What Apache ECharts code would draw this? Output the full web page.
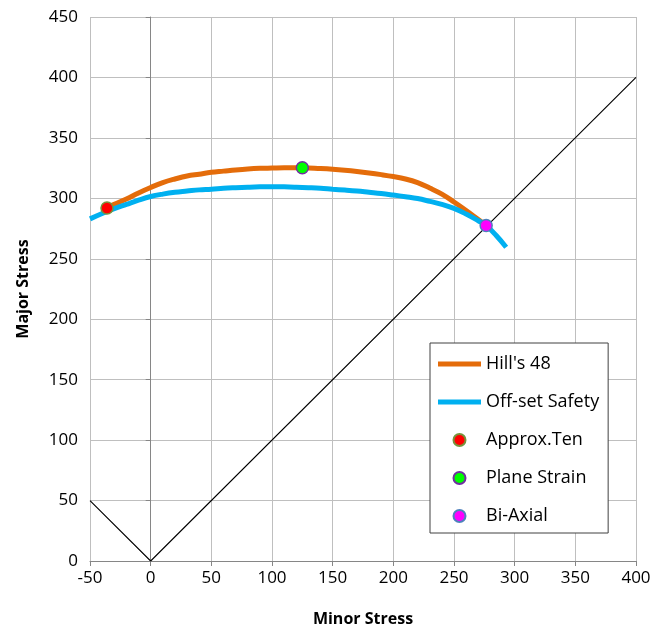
<!DOCTYPE html>
<html><head><meta charset="utf-8">
<script src="https://cdn.jsdelivr.net/npm/echarts@6/dist/echarts.min.js"></script>
<style>html,body{margin:0;padding:0;background:#fff}#c{width:664px;height:626px}</style>
</head><body><div id="c"></div>
<script>
const hillX = [-36,-30,-20,-10,0,10,20,30,40,50,60,70,80,90,100,110,125,140,150,160,170,180,190,200,210,220,230,240,250,260,270,276];
const hillY = [292,295,299.5,304.5,309,313,316,318.5,320,321.5,322.5,323.5,324.3,324.8,325,325.2,325.3,324.6,324,323.2,322.2,321,319.6,318,316,313,308.5,303.5,297,290,282.5,278];
const offX = [-50,-40,-30,-20,-10,0,10,20,30,40,50,60,70,80,90,100,110,120,130,140,150,160,170,180,190,200,210,220,230,240,250,260,270,276,285,293];
const offY = [283,287.5,291.5,295,298.5,301.5,303.5,305,306,307,307.5,308.3,308.8,309.2,309.5,309.6,309.5,309.2,308.8,308.3,307.5,306.8,306,305,304,302.7,301.3,299.8,297.5,295,291.7,287,281.5,278,269,259.5];
const refX = [-50,0,400];
const refY = [50,0,400];
const approxTen = [-36,292];
const planeStrain = [125,325.3];
const biAxial = [276.5,277.5];
const legendNames = ["Hill's 48","Off-set Safety","Approx.Ten","Plane Strain","Bi-Axial"];
const xTicks = {min:-50,max:400,interval:50};
const yTicks = {min:0,max:450,interval:50};

const zip = (a,b)=>a.map((v,i)=>[v,b[i]]);
const font = "'Open Sans', 'Noto Sans', sans-serif";
const lineIcon = 'path://M0,0 H43 V5 H0 Z';
const chart = echarts.init(document.getElementById('c'));
chart.setOption({
  animation:false,
  backgroundColor:'#fff',
  grid:{left:90,right:28,top:17,bottom:65,containLabel:false,outerBoundsMode:'none'},
  xAxis:{type:'value',min:xTicks.min,max:xTicks.max,interval:xTicks.interval,
    name:'Minor Stress',nameLocation:'middle',nameGap:50,
    nameTextStyle:{fontFamily:font,fontSize:16,fontWeight:'bold',color:'#000'},
    axisLine:{onZero:false,lineStyle:{color:'#868686',width:1}},
    axisTick:{show:true,length:5,lineStyle:{color:'#868686'}},
    axisLabel:{fontFamily:font,fontSize:17,color:'#000',margin:9},
    splitLine:{show:true,lineStyle:{color:'#bfbfbf',width:1}}},
  yAxis:{type:'value',min:yTicks.min,max:yTicks.max,interval:yTicks.interval,
    name:'Major Stress',nameLocation:'middle',nameGap:59,
    nameTextStyle:{fontFamily:font,fontSize:16,fontWeight:'bold',color:'#000'},
    axisLine:{show:true,lineStyle:{color:'#868686',width:1}},
    axisTick:{show:true,length:5,lineStyle:{color:'#868686'}},
    axisLabel:{fontFamily:font,fontSize:17,color:'#000',margin:12},
    splitLine:{show:true,lineStyle:{color:'#bfbfbf',width:1}}},
  legend:{data:[
      {name:legendNames[0],icon:lineIcon},
      {name:legendNames[1],icon:lineIcon},
      {name:legendNames[2],icon:'circle'},
      {name:legendNames[3],icon:'circle'},
      {name:legendNames[4],icon:'circle'}],
    orient:'vertical',left:430,top:343,
    padding:[12,9,8,8],itemGap:20,itemWidth:43,itemHeight:12,
    backgroundColor:'#fff',borderColor:'#404040',borderWidth:1,borderRadius:0,
    textStyle:{fontFamily:font,fontSize:18,color:'#000',lineHeight:17}},
  series:[
    {type:'line',name:'ref',data:zip(refX,refY),showSymbol:false,silent:true,
      lineStyle:{color:'#000',width:1.1},z:1},
    {type:'line',name:"Hill's 48",data:zip(hillX,hillY),smooth:0.4,showSymbol:false,symbol:'circle',symbolSize:4,
      lineStyle:{color:'#E46C0A',width:5},itemStyle:{color:'#E46C0A'},z:2},
    {type:'line',name:'Off-set Safety',data:zip(offX,offY),smooth:0.4,showSymbol:false,symbol:'circle',symbolSize:4,
      lineStyle:{color:'#00B0F0',width:5},itemStyle:{color:'#00B0F0'},z:3},
    {type:'scatter',name:'Approx.Ten',data:[approxTen],symbolSize:12,
      itemStyle:{color:'#FF0000',borderColor:'#77933C',borderWidth:1.5,opacity:1},z:5},
    {type:'scatter',name:'Plane Strain',data:[planeStrain],symbolSize:12,
      itemStyle:{color:'#00FF00',borderColor:'#7030A0',borderWidth:1.5,opacity:1},z:5},
    {type:'scatter',name:'Bi-Axial',data:[biAxial],symbolSize:12,
      itemStyle:{color:'#FF00FF',borderColor:'#4F81BD',borderWidth:1.5,opacity:1},z:5}
  ]
});
</script></body></html>
